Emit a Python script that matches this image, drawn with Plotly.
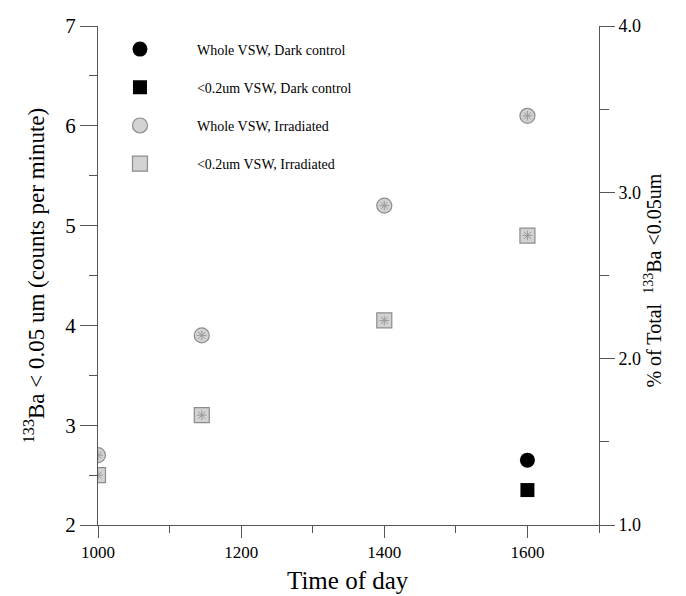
import plotly.graph_objects as go

# ---- data ----
time_irr = [1000, 1145, 1400, 1600]
whole_irr = [2.7, 3.9, 5.2, 6.1]
small_irr = [2.5, 3.1, 4.05, 4.9]
time_dark = [1600]
whole_dark = [2.65]
small_dark = [2.35]

x_ticks = [1000, 1200, 1400, 1600]
y_ticks = [2, 3, 4, 5, 6, 7]
y2_ticks = [1.0, 2.0, 3.0, 4.0]

SERIF = "Liberation Serif, Times New Roman, serif"
AX = "#555555"
GFILL = "#d2d2d2"
GLINE = "#8c8c8c"

T, B = 26, 71
PH = 596 - T - B

fig = go.Figure()
fig.add_trace(go.Scatter(x=time_dark, y=whole_dark, mode="markers",
                         name="Whole VSW, Dark control", legendgroup="a",
                         marker=dict(symbol="circle", size=15, color="black")))
fig.add_trace(go.Scatter(x=time_dark, y=small_dark, mode="markers",
                         name="&lt;0.2um VSW, Dark control", legendgroup="b",
                         marker=dict(symbol="square", size=14, color="black")))
fig.add_trace(go.Scatter(x=time_irr, y=whole_irr, mode="markers",
                         name="Whole VSW, Irradiated", legendgroup="c",
                         marker=dict(symbol="circle", size=15, color=GFILL,
                                     line=dict(color=GLINE, width=1.2))))
fig.add_trace(go.Scatter(x=time_irr, y=small_irr, mode="markers",
                         name="&lt;0.2um VSW, Irradiated", legendgroup="d",
                         marker=dict(symbol="square", size=15, color=GFILL,
                                     line=dict(color=GLINE, width=1.2))))
# texture overlay for irradiated markers
for ys in (whole_irr, small_irr):
    fig.add_trace(go.Scatter(x=time_irr, y=ys, mode="markers", showlegend=False,
                             hoverinfo="skip",
                             marker=dict(symbol="asterisk-open", size=8, color="#9a9a9a",
                                         line=dict(color="#9a9a9a", width=1))))
# invisible trace to activate right axis
fig.add_trace(go.Scatter(x=[1000], y=[1.0], yaxis="y2", mode="markers",
                         marker=dict(opacity=0), showlegend=False, hoverinfo="skip"))

fig.update_layout(
    width=686, height=596,
    margin=dict(l=98, r=87, t=T, b=B),
    paper_bgcolor="white", plot_bgcolor="white",
    font=dict(family=SERIF, color="black"),
    showlegend=True,
    legend=dict(x=-0.03, y=0.985, xanchor="left", yanchor="top",
                font=dict(family=SERIF, size=14, color="black"),
                bgcolor="rgba(0,0,0,0)", tracegroupgap=17, itemwidth=104),
    xaxis=dict(range=[1000, 1700], tickvals=x_ticks, showgrid=False, zeroline=False,
               showline=True, linecolor=AX, linewidth=1, ticks="outside", ticklen=12,
               tickcolor=AX, tickfont=dict(size=17, family=SERIF), automargin=False,
               ticklabelstandoff=0,
               minor=dict(dtick=100, tick0=1000, ticks="outside", ticklen=7, tickcolor=AX)),
    yaxis=dict(range=[2, 7], tickvals=y_ticks, showgrid=False, zeroline=False,
               showline=True, linecolor=AX, linewidth=1, ticks="outside", ticklen=17,
               tickcolor=AX, tickfont=dict(size=21, family=SERIF), automargin=False,
               minor=dict(dtick=0.5, tick0=2, ticks="outside", ticklen=8, tickcolor=AX),
               title=dict(text="<sup>133</sup>Ba &lt; 0.05 um (counts per minute)",
                          font=dict(size=23, family=SERIF), standoff=14)),
    yaxis2=dict(range=[1, 4], tickvals=y2_ticks, tickformat=".1f", overlaying="y",
                side="right", showgrid=False, zeroline=False, automargin=False,
                showline=True, linecolor=AX, linewidth=1, ticks="outside", ticklen=15,
                tickcolor=AX, tickfont=dict(size=18, family=SERIF),
                minor=dict(dtick=0.5, tick0=1, ticks="outside", ticklen=9, tickcolor=AX)),
    annotations=[
        dict(text="% of Total  <sup>133</sup>Ba &lt;0.05um", textangle=-90,
             xref="paper", yref="paper", x=1.108, y=0.49,
             xanchor="center", yanchor="middle", showarrow=False,
             font=dict(size=20, family=SERIF, color="black")),
        dict(text="Time of day", xref="paper", yref="paper",
             x=(348 - 98) / 501, y=-(596 - T - PH - 1) / PH,
             xanchor="center", yanchor="bottom", showarrow=False, borderpad=0,
             font=dict(size=25, family=SERIF, color="black")),
    ],
)

fig.write_html("out.html")
